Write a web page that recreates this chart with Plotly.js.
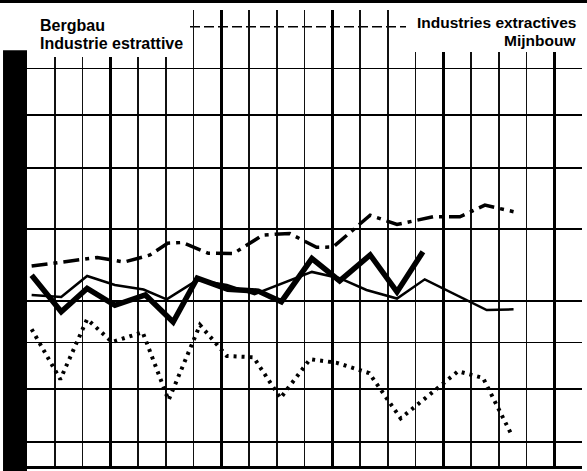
<!DOCTYPE html>
<html>
<head>
<meta charset="utf-8">
<script src="https://cdn.plot.ly/plotly-3.0.1.min.js"></script>
<style>html,body{margin:0;padding:0;background:#fff;}#chart{width:587px;height:471px;}</style>
</head>
<body>
<div id="chart"></div>
<script>
// x positions are months from the left edge of the chart (3 months per grid cell)
const xThick = [0.5, 3.7, 6.5, 9.5, 12.8, 15.8, 18.4, 21.7, 25.0, 27.5, 30.8, 33.8, 37.1, 40.0, 42.8];
const yThick = [106.7, 97.3, 103.2, 98.9, 101.5, 94.8, 105.9, 103.0, 102.5, 99.8, 111.3, 105.2, 112.3, 102.3, 113.2];

const xThin = [0.5, 3.7, 6.5, 9.5, 12.6, 15.1, 18.4, 21.6, 24.6, 27.7, 30.8, 33.8, 36.7, 40.0, 43.0, 49.7, 52.6];
const yThin = [101.5, 101.0, 106.5, 104.1, 102.9, 100.4, 105.4, 104.1, 101.7, 104.6, 107.6, 105.9, 102.8, 100.6, 105.6, 97.7, 97.9];

const xDashDot = [0.5, 3.6, 7.6, 10.5, 13.3, 15.2, 16.8, 19.6, 22.3, 25.5, 28.4, 31.3, 33.1, 37.1, 40.0, 43.9, 46.8, 49.5, 52.6];
const yDashDot = [109.2, 110.3, 111.6, 110.3, 112.3, 115.7, 115.9, 112.8, 112.7, 118.1, 118.6, 114.5, 114.6, 124.2, 121.3, 123.7, 123.7, 127.4, 125.3];

const xDotted = [0.5, 3.6, 6.5, 9.2, 12.5, 15.3, 18.7, 21.6, 24.5, 27.4, 30.6, 33.5, 37.0, 40.4, 46.6, 49.3, 52.5];
const yDotted = [93.1, 82.0, 95.5, 90.1, 92.4, 77.8, 94.1, 87.0, 86.7, 78.2, 86.3, 85.5, 83.3, 74.3, 83.7, 82.3, 70.9];

const yearGrid = [9, 21, 33, 45, 57];
const quarterGrid = [3, 6, 12, 15, 18, 24, 27, 30, 36, 39, 42, 48, 51, 54];
const levelGrid = [70, 80, 90, 100, 120, 140, 160, 180];
const topGrid = [200];

const labelsLeft = ['Bergbau', 'Industrie estrattive'];
const labelsRight = ['Industries extractives', 'Mijnbouw'];

const traces = [
  {x: xDotted, y: yDotted, mode: 'lines', line: {color: '#000', width: 4, dash: '3px,5px'}},
  {x: xDashDot, y: yDashDot, mode: 'lines', line: {color: '#000', width: 3.5, dash: '16px,6px,4px,6px'}},
  {x: xThin, y: yThin, mode: 'lines', line: {color: '#000', width: 2.5}},
  {x: xThick, y: yThick, mode: 'lines', line: {color: '#000', width: 5.5}}
];

const yRange = [1.8187, 2.3194];
const fontL = {family: 'Liberation Sans, Arial, sans-serif', size: 16, color: '#000'};
const fontR = {family: 'Liberation Sans, Arial, sans-serif', size: 15.5, color: '#000'};

const layout = {
  width: 587, height: 471,
  margin: {l: 27, r: 5, t: 10, b: 5},
  paper_bgcolor: '#fff', plot_bgcolor: '#fff',
  showlegend: false,
  xaxis: {
    range: [0, 60], tickmode: 'array', tickvals: yearGrid,
    showgrid: true, gridcolor: '#000', gridwidth: 3.5,
    showticklabels: false, ticks: '', zeroline: false,
    showline: true, linecolor: '#000', linewidth: 3,
    minor: {tickmode: 'array', tickvals: quarterGrid, showgrid: true, gridcolor: '#111', gridwidth: 1.5, ticks: ''}
  },
  yaxis: {
    type: 'log', range: yRange, tickmode: 'array', tickvals: levelGrid,
    showgrid: true, gridcolor: '#000', gridwidth: 1.8,
    showticklabels: false, ticks: '', zeroline: false, showline: false
  },
  shapes: [
    // dashed top level line between the two title blocks
    {type: 'line', xref: 'paper', yref: 'y', x0: 0.2937, x1: 0.683, y0: topGrid[0], y1: topGrid[0], line: {color: '#000', width: 1.5, dash: '10px,4px'}, layer: 'below'},
    // white areas behind the titles
    {type: 'rect', xref: 'paper', yref: 'paper', x0: -0.004, x1: 0.2937, y0: 0.897, y1: 1.0, fillcolor: '#fff', line: {width: 0}, layer: 'above'},
    {type: 'rect', xref: 'paper', yref: 'paper', x0: 0.683, x1: 1.01, y0: 0.908, y1: 1.0, fillcolor: '#fff', line: {width: 0}, layer: 'above'},
    // black left strip and top band (scan edges)
    {type: 'rect', xref: 'paper', yref: 'paper', x0: -0.0432, x1: 0.0, y0: -0.011, y1: 0.912, fillcolor: '#000', line: {width: 0}, layer: 'above'},
    {type: 'rect', xref: 'paper', yref: 'paper', x0: -0.049, x1: 1.01, y0: 1.0154, y1: 1.0219, fillcolor: '#000', line: {width: 0}, layer: 'above'}
  ],
  annotations: [
    {xref: 'paper', yref: 'paper', x: 0.0198, y: 0.9671, xanchor: 'left', yanchor: 'middle', text: '<b>' + labelsLeft[0] + '</b>', showarrow: false, font: fontL},
    {xref: 'paper', yref: 'paper', x: 0.0198, y: 0.9265, xanchor: 'left', yanchor: 'middle', text: '<b>' + labelsLeft[1] + '</b>', showarrow: false, font: fontL},
    {xref: 'paper', yref: 'paper', x: 0.9928, y: 0.9725, xanchor: 'right', yanchor: 'middle', text: '<b>' + labelsRight[0] + '</b>', showarrow: false, font: fontR},
    {xref: 'paper', yref: 'paper', x: 0.9928, y: 0.9330, xanchor: 'right', yanchor: 'middle', text: '<b>' + labelsRight[1] + '</b>', showarrow: false, font: fontR}
  ]
};

Plotly.newPlot('chart', traces, layout, {staticPlot: true, displayModeBar: false});
</script>
</body>
</html>
